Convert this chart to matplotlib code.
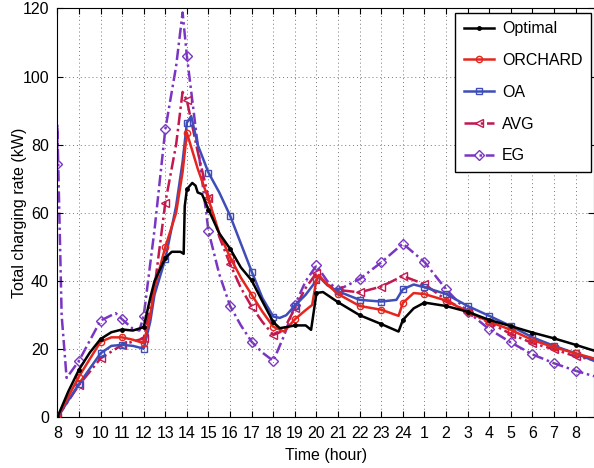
import numpy as np
import matplotlib
matplotlib.use('Agg')
from matplotlib import pyplot as plt

plt.rcParams['font.family'] = ['Liberation Sans', 'DejaVu Sans']
plt.rcParams['font.size'] = 11.5

hour_ticks = list(range(8, 33))
hour_labels = [str(h) if h <= 24 else str(h - 24) for h in hour_ticks]

# Optimal
opt_x = [8, 8.5, 9, 9.5, 10, 10.5, 11, 11.5, 12, 12.3, 12.5, 13, 13.3, 13.7, 13.85, 13.9, 14, 14.25, 14.4, 14.5, 14.7, 15,
         15.5, 16, 16.5, 17, 17.5, 18, 18.3, 18.6, 19, 19.5, 19.75, 20, 20.3, 21, 22, 23, 23.8, 24, 24.5, 25, 26, 27, 28,
         29, 30, 31, 32, 32.85]
opt_y = [0, 7.5, 14, 19, 23, 25, 25.8, 25.5, 26.5, 35, 40, 46.8, 48.6, 48.6, 48, 62, 67, 68.8, 68, 66, 65.5, 61,
         54, 49.5, 44, 40.2, 34, 28, 26.2, 26.5, 27, 27, 25.7, 36.5, 36.8, 33.8, 30, 27.4, 25.2, 28.6, 32, 33.7, 32.7, 31, 28.6,
         26.8, 24.9, 23.2, 21.3, 19.6]

# ORCHARD
orc_x = [8, 9, 10, 10.5, 11, 11.5, 12, 12.3, 12.5, 13, 13.5, 13.8, 14, 14.5, 15, 15.5, 16, 16.5, 17, 17.5, 18, 18.5, 19,
         19.5, 19.8, 20, 20.1, 20.5, 21, 22, 23, 23.8, 24, 24.5, 25, 26, 27, 28, 29, 30, 31, 32, 32.85]
orc_y = [0, 12, 22.2, 23.5, 23.5, 22.8, 21.8, 30, 38, 50, 60, 72, 83.5, 73, 64, 54, 47, 41, 36, 31, 26.6, 25.2, 28.8,
         31.5, 33, 40.5, 41.8, 39, 36.2, 32.7, 31.6, 29.8, 33.6, 36.5, 36.2, 34.3, 31, 28.1, 25.7, 22.7, 20.6, 18.8, 17.3]

# OA
oa_x = [8, 9, 10, 10.5, 11, 11.5, 12, 12.3, 12.5, 13, 13.5, 13.8, 14, 14.2, 14.5, 15, 15.5, 16, 16.5, 17, 17.5, 18,
        18.3, 18.6, 19, 19.5, 20, 20.1, 20.5, 21, 22, 23, 23.7, 24, 24.5, 25, 26, 27, 28, 29, 30, 31, 32, 32.85]
oa_y = [0, 9.8, 18.8, 21, 21.3, 21, 20.2, 28, 36, 46.5, 62, 75, 86.5, 88.4, 80, 71.8, 66, 59.2, 51, 42.8, 35, 29.6,
        29.2, 30, 32.8, 36, 40.2, 41.4, 38.8, 37, 34.5, 34, 34.5, 37.6, 39, 38.2, 36.2, 32.7, 29.8, 26.8, 23.5, 21, 18.8, 16.6]

# AVG
avg_x = [8, 9, 10, 11, 12, 12.5, 13, 13.5, 13.8, 14, 14.5, 15, 15.5, 16, 16.5, 17, 17.5, 18, 18.3, 18.5, 19, 19.5, 20,
         20.5, 21, 22, 23, 24, 25, 26, 27, 28, 29, 30, 31, 32, 32.85]
avg_y = [0, 9.5, 17.3, 21.3, 23.2, 38, 63, 80, 95.5, 93, 78, 64.5, 53, 45, 38, 32.5, 28, 24.2, 25, 26, 32, 38, 42.4,
         39, 37.4, 36.7, 38.4, 41.5, 39.1, 34.5, 31, 27.8, 24.5, 21.8, 20, 17.9, 16.9]

# EG
eg_x = [8, 8.0, 8.2, 8.43, 9, 10, 10.7, 11, 11.5, 11.8, 12, 12.3, 12.5, 13, 13.5, 13.8, 14, 14.5, 15, 15.5, 16, 16.5, 17,
        17.5, 18, 18.5, 19, 19.5, 20, 20.5, 21, 22, 23, 24, 25, 26, 27, 28, 29, 30, 31, 32, 32.85]
eg_y = [74.5, 86, 30, 11.6, 16.6, 28.4, 30.6, 28.8, 26, 25.5, 29.8, 45, 55, 84.5, 103, 118.8, 106, 80, 54.6, 42, 32.7, 27, 22.2,
        19, 16.6, 24, 33, 40, 44.6, 40, 37.4, 40.6, 45.5, 51, 45.6, 37.6, 31, 25.9, 22, 18.5, 15.9, 13.7, 12.1]

series = [
    ('Optimal', opt_x, opt_y, 'black', '-', '.', 5),
    ('ORCHARD', orc_x, orc_y, '#E5261E', '-', 'o', 4.5),
    ('OA', oa_x, oa_y, '#3F4DB8', '-', 's', 5),
    ('AVG', avg_x, avg_y, '#C2174F', (0, (5, 1.5, 1, 1.5)), '<', 5.5),
    ('EG', eg_x, eg_y, '#7B35C3', (0, (4.5, 1.5, 1, 1.5)), 'D', 5),
]

fig = plt.figure(figsize=(5.94, 4.68), dpi=100)
ax = fig.add_axes([0.0965, 0.108, 0.9035, 0.874])

for i, (name, xs, ys, color, ls, mk, ms) in enumerate(series):
    xs = np.array(xs)
    # markers only at whole hours (first occurrence)
    mask = [(float(v).is_integer() and (j == 0 or xs[j - 1] != v)) for j, v in enumerate(xs)]
    ax.plot(xs, ys, color=color, linestyle=ls, linewidth=1.8, marker=mk, markersize=ms,
            markerfacecolor='none' if mk != '.' else color, markeredgewidth=1.0,
            markevery=mask, label=name, zorder=5 - i)

ax.set_xlim(8, 32.85)
ax.set_ylim(0, 120)
ax.set_xticks(hour_ticks)
ax.set_xticklabels(hour_labels)
ax.set_yticks([0, 20, 40, 60, 80, 100, 120])
ax.tick_params(direction='in', top=True, right=True, length=4, pad=6)
ax.grid(True, linestyle=(0, (1, 3)), color='#777777', linewidth=0.7)
ax.set_xlabel('Time (hour)', labelpad=5)
ax.set_ylabel('Total charging rate (kW)', labelpad=-3)

leg = ax.legend(loc='upper right', fancybox=False, edgecolor='black', framealpha=1,
                labelspacing=1.05, handlelength=1.9, handletextpad=0.5, borderpad=0.55,
                borderaxespad=0, bbox_to_anchor=(0.995, 0.99))
leg.get_frame().set_linewidth(1.0)

fig.savefig('out.png', dpi=100)
